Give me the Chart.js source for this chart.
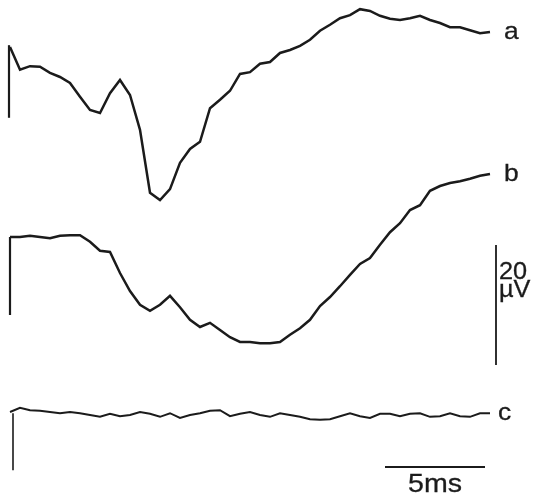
<!DOCTYPE html>
<html lang="en">
<head>
    <meta charset="UTF-8">
    <title>Evoked potentials a, b, c</title>
    <style>
        html, body { margin: 0; padding: 0; background: #ffffff; }
        #chart-box { width: 535px; height: 500px; }
    </style>
</head>
<body>
    <div id="chart-box">
        <canvas id="traceChart" width="535" height="500"></canvas>
    </div>

    <script src="https://cdn.jsdelivr.net/npm/chart.js"></script>
    <script>
        // sample times in ms (every 0.5 ms from stimulus)
        const timesMs = [];
        for (let i = 0; i <= 48; i++) timesMs.push(i * 0.5);

        // trace values in microvolts, relative to each trace's baseline
        const traceA = [3.0, -0.8, -0.2, -0.3, -1.3, -2.0, -3.0, -5.3, -7.5, -8.0,
            -4.7, -2.5, -5.0, -10.8, -21.3, -22.5, -20.7, -16.3, -14.0, -12.8,
            -7.2, -5.8, -4.3, -1.5, -1.2, 0.2, 0.5, 2.0, 2.5, 3.2,
            4.2, 5.7, 6.7, 7.8, 8.3, 9.3, 9.0, 8.2, 7.7, 7.5,
            7.8, 8.2, 7.5, 7.0, 6.3, 6.3, 5.8, 5.3, 5.5];
        const traceB = [0, 0, 0.2, 0, -0.2, 0.2, 0.3, 0.3, -0.8, -2.3,
            -2.5, -6.0, -9.0, -11.3, -12.3, -11.3, -9.8, -11.7, -13.8, -15.0,
            -14.3, -15.5, -16.7, -17.5, -17.5, -17.7, -17.7, -17.5, -16.3, -15.2,
            -13.8, -11.5, -10.0, -8.2, -6.3, -4.5, -3.5, -1.3, 0.8, 2.3,
            4.5, 5.3, 7.7, 8.5, 9.0, 9.3, 9.7, 10.2, 10.5];
        const traceC = [0, 0.7, 0.3, 0.2, 0, -0.2, 0, -0.2, -0.5, -0.8,
            -0.3, -0.7, -0.5, 0, -0.3, -0.8, -0.2, -1.0, -0.5, -0.2,
            0.2, 0.3, -0.7, -0.3, 0, -0.5, -0.8, -0.2, -0.5, -0.8,
            -1.2, -1.3, -1.2, -0.7, -0.2, -0.7, -1.0, -0.3, -0.3, -0.7,
            -0.3, -0.2, -0.8, -0.7, -0.2, -0.7, -0.8, -0.2, -0.2];

        // stimulus artifacts: [time, bottom, top] in ms / microvolts
        const artifactA = [-0.05, -8.8, 3.3];
        const artifactB = [0, -13.0, 0];
        const artifactC = [0.15, -9.7, -0.2];

        // calibration bars
        const barMicrovolts = 20;
        const barMs = 5;

        // layout: vertical position of each trace baseline (microvolts from top)
        const offsetA = -10.83, offsetB = -39.5, offsetC = -68.67;
        const ink = '#1b1b1b';

        function traceData(values, offset) {
            return values.map((v, i) => ({ x: timesMs[i], y: v + offset }));
        }
        function artifactData(a, offset) {
            return [{ x: a[0], y: a[1] + offset }, { x: a[0], y: a[2] + offset }];
        }

        const vBarTop = -40.83;   // top of 20 uV bar
        const vBarTime = 24.3;
        const hBarLevel = -77.83;
        const hBarStart = 18.75;

        // text labels, positioned in chart units
        const labels = [
            { text: 'a', x: 24.7, y: offsetA + traceA[48], size: 24, align: 'left' },
            { text: 'b', x: 24.7, y: offsetB + traceB[48], size: 24, align: 'left' },
            { text: 'c', x: 24.4, y: offsetC + traceC[48], size: 24, align: 'left' },
            { text: '20', x: 24.45, y: -45.4, size: 23, align: 'left' },
            { text: 'µV', x: 24.45, y: -48.4, size: 23, align: 'left' },
            { text: '5ms', x: hBarStart + barMs / 2, y: -80.8, size: 26, align: 'center' }
        ];

        const labelPlugin = {
            id: 'labelPlugin',
            afterDatasetsDraw(chart) {
                const ctx = chart.ctx;
                const xs = chart.scales.x, ys = chart.scales.y;
                ctx.save();
                ctx.fillStyle = ink;
                ctx.strokeStyle = ink;
                ctx.lineWidth = 0.3;
                ctx.textBaseline = 'middle';
                labels.forEach(l => {
                    ctx.save();
                    ctx.font = l.size + 'px "Liberation Sans", Arial, sans-serif';
                    ctx.translate(xs.getPixelForValue(l.x), ys.getPixelForValue(l.y));
                    ctx.scale(1.1, 1);
                    ctx.textAlign = l.align;
                    ctx.fillText(l.text, 0, 0);
                    ctx.strokeText(l.text, 0, 0);
                    ctx.restore();
                });
                ctx.restore();
            }
        };

        function lineSet(data, width) {
            return {
                data: data,
                showLine: true,
                borderColor: ink,
                borderWidth: width,
                pointRadius: 0,
                tension: 0,
                fill: false
            };
        }

        const ctx = document.getElementById('traceChart').getContext('2d');
        new Chart(ctx, {
            type: 'scatter',
            data: {
                datasets: [
                    lineSet(traceData(traceA, offsetA), 2.5),
                    lineSet(traceData(traceB, offsetB), 2.5),
                    lineSet(traceData(traceC, offsetC), 2),
                    lineSet(artifactData(artifactA, offsetA), 2.2),
                    lineSet(artifactData(artifactB, offsetB), 2.2),
                    lineSet(artifactData(artifactC, offsetC), 1.6),
                    lineSet([{ x: vBarTime, y: vBarTop }, { x: vBarTime, y: vBarTop - barMicrovolts }], 1.8),
                    lineSet([{ x: hBarStart, y: hBarLevel }, { x: hBarStart + barMs, y: hBarLevel }], 2)
                ]
            },
            options: {
                responsive: false,
                animation: false,
                devicePixelRatio: 1,
                layout: { padding: 0 },
                plugins: {
                    legend: { display: false },
                    tooltip: { enabled: false }
                },
                scales: {
                    x: { type: 'linear', min: -0.5, max: 26.25, display: false },
                    y: { type: 'linear', min: -83.333, max: 0, display: false }
                }
            },
            plugins: [labelPlugin]
        });
    </script>
</body>
</html>
